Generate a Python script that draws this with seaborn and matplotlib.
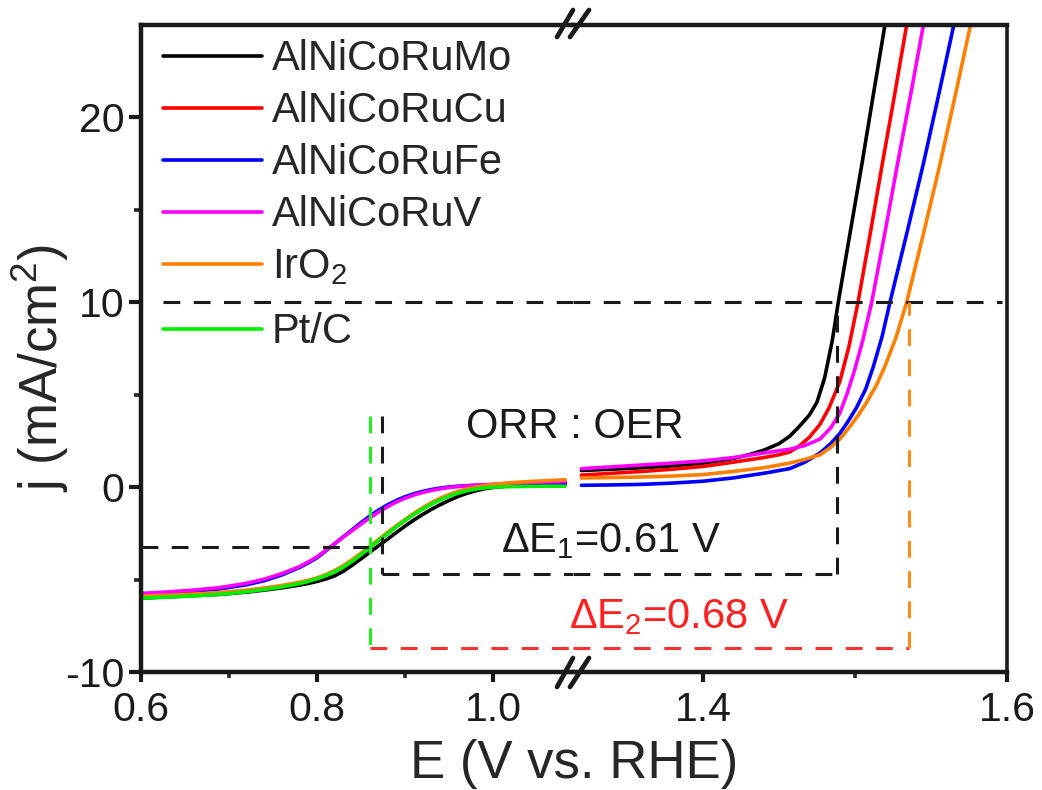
import matplotlib
matplotlib.use('Agg')
import matplotlib.pyplot as plt
from matplotlib.lines import Line2D
import pandas as pd
import seaborn as sns

# ---------------- data ----------------
samples = ['AlNiCoRuMo', 'AlNiCoRuCu', 'AlNiCoRuFe', 'AlNiCoRuV', 'IrO2', 'Pt/C']
legend_labels = ['AlNiCoRuMo', 'AlNiCoRuCu', 'AlNiCoRuFe', 'AlNiCoRuV', 'IrO$_2$', 'Pt/C']
colors = ['#000000', '#FF0000', '#0000FF', '#FF00FF', '#FF8000', '#00EE00']

# ORR branch (left part of broken axis)
orr_E = [0.60, 0.63, 0.66, 0.69, 0.72, 0.74, 0.76, 0.78, 0.79, 0.80, 0.81, 0.82,
         0.83, 0.84, 0.85, 0.86, 0.87, 0.88, 0.89, 0.90, 0.91, 0.92, 0.93, 0.94,
         0.95, 0.96, 0.97, 0.98, 0.99, 1.00, 1.02, 1.04, 1.06, 1.082]
orr_Mo = [-6.00, -5.94, -5.87, -5.80, -5.68, -5.57, -5.45, -5.30, -5.21, -5.10, -4.97, -4.80,
          -4.55, -4.22, -3.88, -3.52, -3.17, -2.82, -2.46, -2.11, -1.78, -1.48, -1.20, -0.95,
          -0.72, -0.51, -0.34, -0.20, -0.09, -0.02, 0.08, 0.14, 0.18, 0.20]
orr_Cu = [-5.95, -5.89, -5.82, -5.73, -5.60, -5.48, -5.35, -5.18, -5.07, -4.94, -4.77, -4.56,
          -4.29, -3.97, -3.62, -3.25, -2.87, -2.50, -2.14, -1.80, -1.47, -1.17, -0.89, -0.65,
          -0.44, -0.27, -0.13, -0.03, 0.05, 0.10, 0.17, 0.22, 0.25, 0.28]
orr_Fe = [-5.80, -5.73, -5.64, -5.50, -5.28, -5.06, -4.75, -4.35, -4.10, -3.82, -3.45, -3.07,
          -2.68, -2.30, -1.92, -1.56, -1.24, -0.96, -0.72, -0.52, -0.36, -0.23, -0.13, -0.05,
          0.01, 0.05, 0.08, 0.10, 0.12, 0.13, 0.16, 0.18, 0.20, 0.20]
orr_V = [-5.75, -5.67, -5.57, -5.43, -5.20, -4.98, -4.68, -4.30, -4.05, -3.77, -3.42, -3.06,
         -2.70, -2.35, -2.00, -1.66, -1.35, -1.06, -0.81, -0.60, -0.43, -0.29, -0.18, -0.09,
         -0.02, 0.03, 0.07, 0.10, 0.13, 0.15, 0.20, 0.24, 0.28, 0.30]
orr_Ir = [-5.90, -5.85, -5.78, -5.70, -5.57, -5.46, -5.32, -5.15, -5.04, -4.91, -4.73, -4.51,
          -4.24, -3.92, -3.57, -3.20, -2.82, -2.45, -2.09, -1.75, -1.42, -1.12, -0.84, -0.60,
          -0.40, -0.23, -0.10, 0.00, 0.08, 0.15, 0.24, 0.30, 0.35, 0.40]
orr_Pt = [-6.00, -5.95, -5.88, -5.80, -5.66, -5.54, -5.40, -5.22, -5.10, -4.96, -4.79, -4.58,
          -4.32, -4.01, -3.65, -3.27, -2.89, -2.52, -2.15, -1.80, -1.48, -1.19, -0.92, -0.69,
          -0.49, -0.33, -0.20, -0.11, -0.04, 0.00, 0.03, 0.04, 0.05, 0.05]

# OER branch (right part of broken axis)
oer_Mo_E = [1.32, 1.34, 1.36, 1.38, 1.40, 1.42, 1.43, 1.44, 1.45, 1.457, 1.463, 1.470,
            1.475, 1.480, 1.485, 1.489, 1.495, 1.5046, 1.512, 1.5197, 1.530]
oer_Mo_j = [0.90, 0.97, 1.05, 1.15, 1.30, 1.55, 1.75, 2.00, 2.35, 2.75, 3.25, 3.90,
            4.60, 5.90, 7.90, 10.0, 12.9, 17.5, 21.2, 25.0, 30.0]
oer_Cu_E = [1.32, 1.34, 1.36, 1.38, 1.40, 1.42, 1.44, 1.45, 1.457, 1.463, 1.470, 1.477,
            1.483, 1.490, 1.496, 1.502, 1.510, 1.518, 1.526, 1.534, 1.545]
oer_Cu_j = [0.65, 0.75, 0.85, 0.97, 1.12, 1.35, 1.60, 1.75, 1.90, 2.20, 2.70, 3.40,
            4.30, 5.70, 7.60, 10.0, 13.7, 17.5, 21.2, 25.0, 30.0]
oer_Fe_E = [1.32, 1.34, 1.36, 1.38, 1.40, 1.42, 1.44, 1.457, 1.467, 1.477, 1.484, 1.490,
            1.495, 1.501, 1.507, 1.512, 1.518, 1.523, 1.534, 1.545, 1.555, 1.565, 1.575]
oer_Fe_j = [0.10, 0.12, 0.15, 0.22, 0.32, 0.50, 0.75, 1.00, 1.35, 1.85, 2.35, 2.90,
            3.50, 4.30, 5.30, 6.50, 8.20, 10.0, 13.7, 17.5, 21.2, 25.0, 29.0]
oer_V_E = [1.32, 1.34, 1.36, 1.38, 1.40, 1.42, 1.44, 1.457, 1.467, 1.477, 1.484, 1.490,
           1.495, 1.500, 1.505, 1.511, 1.520, 1.528, 1.537, 1.545, 1.555]
oer_V_j = [1.00, 1.10, 1.20, 1.30, 1.42, 1.60, 1.85, 2.05, 2.25, 2.60, 3.20, 4.00,
           5.10, 6.40, 7.90, 10.0, 13.9, 17.5, 21.4, 25.0, 30.0]
oer_Ir_E = [1.32, 1.34, 1.36, 1.38, 1.40, 1.42, 1.44, 1.457, 1.467, 1.477, 1.484, 1.490,
            1.495, 1.501, 1.507, 1.514, 1.520, 1.527, 1.534, 1.545, 1.556, 1.566, 1.576, 1.585]
oer_Ir_j = [0.50, 0.52, 0.55, 0.60, 0.68, 0.85, 1.05, 1.30, 1.50, 1.75, 2.15, 2.60,
            3.10, 3.75, 4.50, 5.50, 6.60, 8.10, 10.0, 13.7, 17.5, 21.2, 25.0, 29.0]

# guide-line values
j_ref = 10.0           # mA/cm2 OER benchmark
j_half = -3.25         # half-wave level
E_half_best = 0.874    # ORR E1/2 AlNiCoRuMo
E_half_Pt = 0.860      # ORR E1/2 Pt/C
E10_best = 1.488       # OER E(j=10) AlNiCoRuMo
E10_Ir = 1.5355        # OER E(j=10) IrO2
j_top_guides = 3.85
j_dE1 = -4.7
j_dE2 = -8.7
dE1_text = 'ΔE$_1$=0.61 V'
dE2_text = 'ΔE$_2$=0.68 V'

left_xlim = (0.6, 1.0909)
right_xlim = (1.3145, 1.6)
ylim = (-10, 25)

# ---------------- tables ----------------
orr_df = pd.concat([
    pd.DataFrame({'E': orr_E, 'j': v, 'sample': s})
    for s, v in zip(samples, [orr_Mo, orr_Cu, orr_Fe, orr_V, orr_Ir, orr_Pt])
], ignore_index=True)
oer_df = pd.concat([
    pd.DataFrame({'E': e, 'j': v, 'sample': s})
    for s, e, v in zip(samples[:5],
                       [oer_Mo_E, oer_Cu_E, oer_Fe_E, oer_V_E, oer_Ir_E],
                       [oer_Mo_j, oer_Cu_j, oer_Fe_j, oer_V_j, oer_Ir_j])
], ignore_index=True)

# ---------------- style ----------------
sns.set_theme(style='ticks')
plt.rcParams['font.family'] = ['Liberation Sans', 'DejaVu Sans']
plt.rcParams['mathtext.fontset'] = 'custom'
plt.rcParams['mathtext.rm'] = 'Liberation Sans'
plt.rcParams['mathtext.it'] = 'Liberation Sans:italic'
plt.rcParams['axes.unicode_minus'] = False

W, H = 1042, 790
fig = plt.figure(figsize=(W / 100, H / 100), dpi=100)
x0, xb, x1 = 141, 573, 1007
yt, yb = 25, 672
axL = fig.add_axes([x0 / W, 1 - yb / H, (xb - x0) / W, (yb - yt) / H])
axR = fig.add_axes([xb / W, 1 - yb / H, (x1 - xb) / W, (yb - yt) / H])
for ax in (axL, axR):
    ax.set_facecolor('none')

palette = dict(zip(samples, colors))
LW = 2.6
sns.lineplot(data=orr_df, x='E', y='j', hue='sample', hue_order=samples, palette=palette,
             sort=False, estimator=None, linewidth=LW, legend=False, ax=axL)
sns.lineplot(data=oer_df, x='E', y='j', hue='sample', hue_order=samples[:5], palette=palette,
             sort=False, estimator=None, linewidth=LW, legend=False, ax=axR)

# dashed guides
dash = (0, (5.5, 4.4))
glw = 2.2
axL.plot([0.625, left_xlim[1]], [j_ref, j_ref], color='k', lw=glw, ls=dash)
axR.plot([right_xlim[0], 1.597], [j_ref, j_ref], color='k', lw=glw, ls=dash)
axL.plot([left_xlim[0], E_half_best], [j_half, j_half], color='k', lw=glw, ls=dash)
axL.plot([E_half_best, E_half_best], [j_top_guides, j_dE1], color='k', lw=glw, ls=dash)
axL.plot([E_half_best, left_xlim[1]], [j_dE1, j_dE1], color='k', lw=glw, ls=dash)
axR.plot([right_xlim[0], E10_best], [j_dE1, j_dE1], color='k', lw=glw, ls=dash)
axR.plot([E10_best, E10_best], [j_dE1, j_ref], color='k', lw=glw, ls=dash)
axL.plot([E_half_Pt, E_half_Pt], [j_top_guides, j_dE2], color='#22EE22', lw=glw, ls=dash)
axL.plot([E_half_Pt, left_xlim[1]], [j_dE2, j_dE2], color='#FF3030', lw=glw, ls=dash)
axR.plot([right_xlim[0], E10_Ir], [j_dE2, j_dE2], color='#FF3030', lw=glw, ls=dash)
axR.plot([E10_Ir, E10_Ir], [j_dE2, j_ref], color='#FF8C1A', lw=glw, ls=dash)

# axes limits / ticks
axL.set_xlim(*left_xlim)
axR.set_xlim(*right_xlim)
for ax in (axL, axR):
    ax.set_ylim(*ylim)
    ax.set_xlabel('')
    ax.set_ylabel('')
    for sp in ax.spines.values():
        sp.set_linewidth(3.2)
        sp.set_color('k')
axL.spines['right'].set_visible(False)
axR.spines['left'].set_visible(False)
axR.spines['right'].set_linewidth(2.6)

axL.set_xticks([0.6, 0.8, 1.0])
axL.set_xticklabels(['0.6', '0.8', '1.0'])
axL.set_xticks([0.7, 0.9], minor=True)
axR.set_xticks([1.4, 1.6])
axR.set_xticklabels(['1.4', '1.6'])
axR.set_xticks([1.5], minor=True)
axL.set_yticks([-10, 0, 10, 20])
axL.set_yticklabels(['-10', '0', '10', '20'])
axL.set_yticks([-5, 5, 15], minor=True)
axR.set_yticks([])
axR.tick_params(axis='y', which='both', left=False, right=False, labelleft=False)

for ax in (axL, axR):
    ax.tick_params(axis='x', which='major', direction='out', length=7, width=3, pad=7,
                   labelsize=29.5, colors='k', top=False)
    ax.tick_params(axis='x', which='minor', direction='out', length=4.5, width=2.6, top=False)
axL.tick_params(axis='y', which='major', direction='out', length=9, width=3, pad=3,
                labelsize=29.5, colors='k', right=False)
axL.tick_params(axis='y', which='minor', direction='out', length=5, width=2.6, right=False)

# legend (Pt/C row sits a little lower, as in the original)
handles = [Line2D([], [], color=c, lw=LW) for c in colors]
leg_kw = dict(frameon=False, fontsize=30, handlelength=2.37, handletextpad=0.24,
              labelspacing=0.29, borderpad=0, borderaxespad=0, loc='upper left')
leg1 = axL.legend(handles[:5], legend_labels[:5], bbox_to_anchor=(0.051, 0.978), **leg_kw)
axL.add_artist(leg1)
axL.legend(handles[5:], legend_labels[5:], bbox_to_anchor=(0.051, 0.556), **leg_kw)

# annotations (placed in right axes so they sit above both panels)
axR.text(1.3158, 2.65, 'ORR : OER', ha='center', va='baseline', fontsize=30,
         color='k', clip_on=False)
axR.text(1.3395, -3.5, dE1_text, ha='center', va='baseline', fontsize=30,
         color='k', clip_on=False)
axR.text(1.3842, -7.63, dE2_text, ha='center', va='baseline', fontsize=30,
         color='#FF2020', clip_on=False)

# axis labels
fig.text(574 / W, 1 - 778 / H, 'E (V vs. RHE)', ha='center', va='baseline', fontsize=38)
fig.text(40 / W, 1 - 368 / H, 'j (mA/cm$^2$)', ha='center', va='center', rotation=90,
         fontsize=38)

# axis-break marks
for (ya, yb2) in [(37, 10), (687, 658)]:
    for (xa, xb2) in [(557, 573), (570, 589)]:
        fig.add_artist(Line2D([xa / W, xb2 / W], [1 - ya / H, 1 - yb2 / H],
                              color='k', lw=3.4, solid_capstyle='round'))

fig.savefig('out.png', dpi=100)
